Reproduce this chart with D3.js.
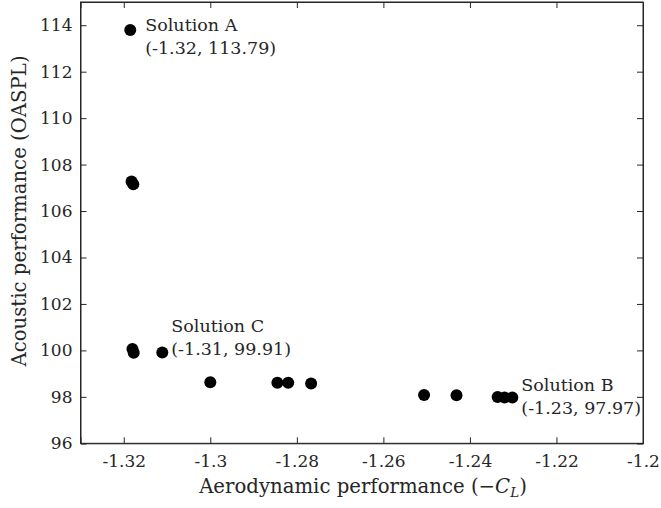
<!DOCTYPE html>
<html><head><meta charset="utf-8">
<script src="https://cdn.jsdelivr.net/npm/d3@7"></script>
<style>body{margin:0;background:#fff}svg{display:block}text{font-family:"DejaVu Serif",serif;fill:#262626}</style>
</head><body>
<svg id="chart" width="661" height="508"></svg>
<script>
const xValues = [-1.3185, -1.3182, -1.3178, -1.3180, -1.3177, -1.3111, -1.3000, -1.2845, -1.2820, -1.2767, -1.2506, -1.2431, -1.2336, -1.2320, -1.2302];
const yValues = [113.79, 107.27, 107.15, 100.06, 99.90, 99.91, 98.63, 98.61, 98.61, 98.57, 98.08, 98.07, 97.99, 97.97, 97.97];
const xTicks = [-1.32, -1.3, -1.28, -1.26, -1.24, -1.22, -1.2];
const yTicks = [96, 98, 100, 102, 104, 106, 108, 110, 112, 114];
const annotations = [
  {name: "Solution A", x: -1.3185, y: 113.79, label: "(-1.32, 113.79)"},
  {name: "Solution C", x: -1.3111, y: 99.91, label: "(-1.31, 99.91)"},
  {name: "Solution B", x: -1.2302, y: 97.97, label: "(-1.23, 97.97)"}
];
const annOffsets = [[15, 1], [9, -20], [9, -7]];

const svg = d3.select("#chart");
const L = 80.5, R = 643, T = 2, B = 443.3;
const x = d3.scaleLinear().domain([-1.33, -1.2]).range([L, R]);
const y = d3.scaleLinear().domain([96, 115]).range([B, T]);
const fmtX = d => String(+d.toFixed(2));
const tk = 6;

const g = svg.append("g");
// frame
g.append("rect").attr("x", L).attr("y", T).attr("width", R - L).attr("height", B - T)
  .attr("fill", "none").attr("stroke", "#262626").attr("stroke-width", 1);

// axes
const xAx = d3.axisBottom(x).tickValues(xTicks).tickSize(-tk).tickPadding(12).tickFormat(fmtX);
const xg = g.append("g").attr("transform", `translate(0,${B})`).call(xAx);
const xTop = d3.axisTop(x).tickValues(xTicks).tickSize(-tk).tickFormat("");
const xtg = g.append("g").attr("transform", `translate(0,${T})`).call(xTop);
const yAx = d3.axisLeft(y).tickValues(yTicks).tickSize(-tk).tickPadding(8).tickFormat(d3.format("d"));
const yg = g.append("g").attr("transform", `translate(${L},0)`).call(yAx);
const yRight = d3.axisRight(y).tickValues(yTicks).tickSize(-tk).tickFormat("");
const yrg = g.append("g").attr("transform", `translate(${R},0)`).call(yRight);
[xg, xtg, yg, yrg].forEach(a => {
  a.select(".domain").attr("stroke", "#262626");
  a.selectAll(".tick line").attr("stroke", "#262626");
  a.selectAll(".tick text").attr("font-family", "DejaVu Serif").attr("font-size", 17).attr("fill", "#262626");
});

// points
g.selectAll("circle.pt").data(xValues).join("circle").attr("class", "pt")
  .attr("cx", d => x(d)).attr("cy", (d, i) => y(yValues[i])).attr("r", 6).attr("fill", "#000");

// annotations
annotations.forEach((a, i) => {
  const px = x(a.x) + annOffsets[i][0], py = y(a.y) + annOffsets[i][1];
  g.append("text").attr("x", px).attr("y", py).attr("font-size", 17.5).text(a.name);
  g.append("text").attr("x", px).attr("y", py + 23).attr("font-size", 17.5).text(a.label);
});

// axis titles
const xt = g.append("text").attr("x", 363).attr("y", 493).attr("text-anchor", "middle").attr("font-size", 19.7);
xt.append("tspan").text("Aerodynamic performance (−");
xt.append("tspan").attr("font-style", "italic").text("C");
xt.append("tspan").attr("font-style", "italic").attr("font-size", 13.5).attr("dy", 4).text("L");
xt.append("tspan").attr("dy", -4).text(")");
g.append("text").attr("transform", `translate(26,${211}) rotate(-90)`)
  .attr("text-anchor", "middle").attr("font-size", 19.7).text("Acoustic performance (OASPL)");
</script>
</body></html>
